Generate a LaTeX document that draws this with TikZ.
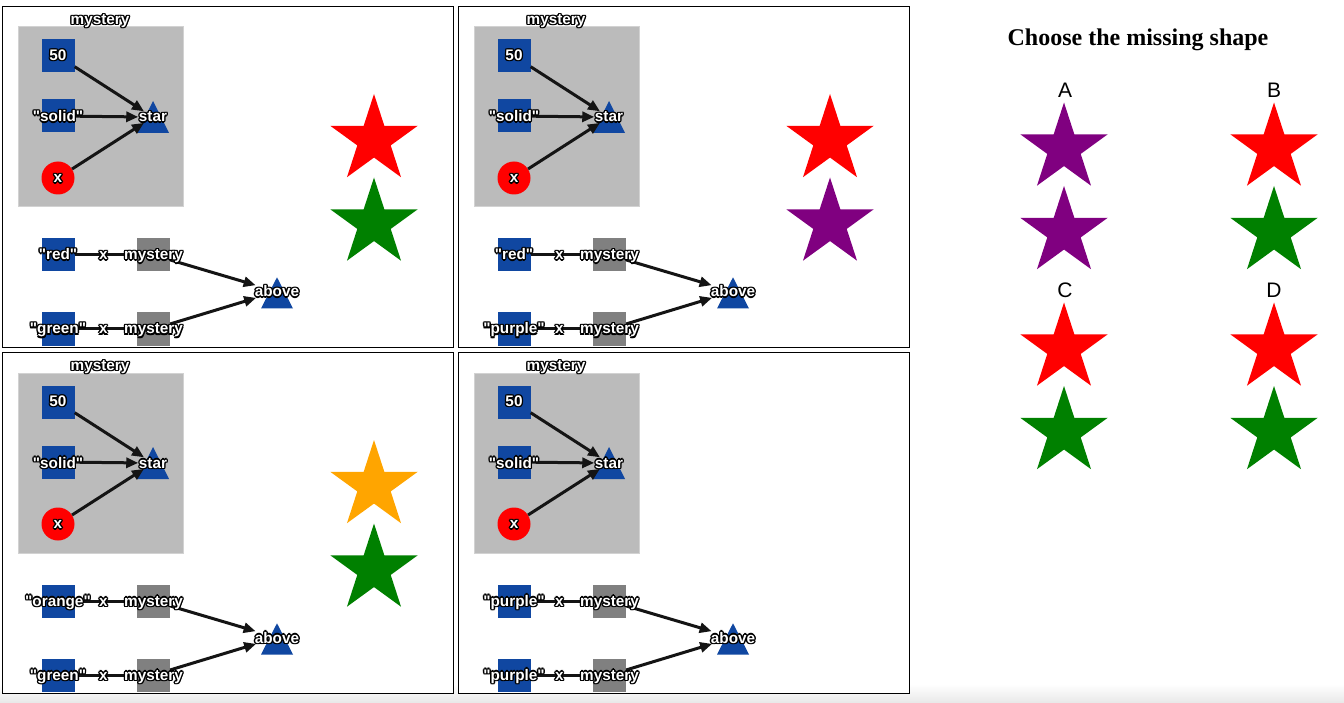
\documentclass[tikz,border=0pt]{standalone}
\usepackage{fontspec}
\setmainfont{Liberation Sans}
\newfontfamily\titlefont{Liberation Serif}
\usetikzlibrary{shapes.geometric,arrows.meta}
\pgfdeclarelayer{shapes}
\pgfdeclarelayer{lines}
\pgfsetlayers{shapes,lines,main}
\definecolor{nodeblue}{RGB}{16,71,161}
\definecolor{boxgray}{RGB}{187,187,187}
\definecolor{boxedge}{RGB}{210,210,210}
\definecolor{mgray}{RGB}{128,128,128}
\definecolor{linec}{RGB}{20,20,20}
\definecolor{sgreen}{RGB}{0,128,0}
\definecolor{spurple}{RGB}{128,0,128}
\definecolor{sorange}{RGB}{255,165,0}
\definecolor{halocol}{RGB}{0,0,0}
\newcommand\lblfont{\bfseries\fontsize{15.3pt}{15.3pt}\selectfont}
\newcommand\dq{\XeTeXglyph\XeTeXcharglyph"0022\relax}
\tikzset{
  lbl/.style={font=\lblfont, inner sep=0.5pt, anchor=base},
  sqnode/.style={fill=nodeblue, minimum size=33pt, inner sep=0pt, draw=none},
  msq/.style={fill=mgray, minimum size=33pt, inner sep=0pt, draw=none},
  redcirc/.style={circle, fill=red, minimum size=33pt, inner sep=0pt, draw=none},
  arr/.style={draw=linec, line width=3pt, -{Triangle[length=12pt,width=10pt]}},
  conn/.style={draw=linec, line width=3pt},
  pstar/.style={star, star points=5, star point ratio=2.618, minimum size=92pt, inner sep=0pt, draw=none},
  panelbox/.style={fill=white, draw=black, line width=1pt},
  ansl/.style={anchor=base, font=\fontsize{21pt}{21pt}\selectfont}
}
% haloed label: name, position, text
\newcommand\hl[3]{%
 \foreach \hx/\hy in {1.4/0,-1.4/0,0/1.4,0/-1.4,1/1,-1/1,1/-1,-1/-1}
   {\node[lbl, text=halocol, xshift=\hx pt, yshift=\hy pt] at (#2) {#3};}
 \node[lbl, text=white] (#1) at (#2) {#3};}
\newcommand\panel[5]{%
\begin{scope}[shift={(#1,#2)}]
 \begin{pgfonlayer}{shapes}
  \filldraw[fill=boxgray, draw=boxedge, line width=1pt] (18,27) rectangle (183,207);
  \node[sqnode] (#3a) at (58,56) {};
  \node[sqnode] (#3b) at (58,116) {};
  \node[redcirc] (#3c) at (58,178) {};
  \fill[nodeblue] (153,101) -- (169,133) -- (137,133) -- cycle;
  \node[sqnode] (#3r1) at (58,255) {};
  \node[sqnode] (#3r2) at (58,329) {};
  \node[msq] (#3m1) at (153.5,255) {};
  \node[msq] (#3m2) at (153.5,329) {};
  \fill[nodeblue] (277,277.3) -- (293,308.5) -- (261,308.5) -- cycle;
 \end{pgfonlayer}
 \coordinate (#3x1c) at (103.3,260);
 \coordinate (#3x2c) at (103.3,334);
 \hl{#3title}{100,24.5}{mystery}
 \hl{#3la}{58,60.5}{50}
 \hl{#3lb}{58,122}{\dq solid\dq}
 \hl{#3lc}{58,182.7}{x}
 \hl{#3star}{153,122}{star}
 \hl{#3lr1}{58,260}{\dq #4\dq}
 \hl{#3lm1}{153.5,260}{mystery}
 \hl{#3lr2}{58,334}{\dq #5\dq}
 \hl{#3lm2}{153.5,334}{mystery}
 \hl{#3above}{277,297}{above}
 \hl{#3x1}{#3x1c}{x}
 \hl{#3x2}{#3x2c}{x}
 \begin{pgfonlayer}{lines}
  \draw[arr] (#3a) -- (#3star);
  \draw[arr] (#3b) -- (#3star);
  \draw[arr] (#3c) -- (#3star);
  \draw[conn] (#3r1) -- (#3m1);
  \draw[conn] (#3r2) -- (#3m2);
  \draw[arr] (#3m1) -- (#3above);
  \draw[arr] (#3m2) -- (#3above);
 \end{pgfonlayer}
\end{scope}}
\begin{document}
\begin{tikzpicture}[x=1pt, y=-1pt]
\useasboundingbox (0,0) rectangle (1344,703);
\begin{pgfonlayer}{shapes}
 \shade[top color=white, bottom color=black!9] (0,684) rectangle (1344,703);
 \filldraw[panelbox] (2.5,6.5) rectangle (453,347);
 \filldraw[panelbox] (458,6.5) rectangle (909,347);
 \filldraw[panelbox] (2.5,352) rectangle (453,693);
 \filldraw[panelbox] (458,352) rectangle (909,693);
\end{pgfonlayer}
\panel{0}{0}{p1}{red}{green}
\panel{456}{0}{p2}{red}{purple}
\panel{0}{346}{p3}{orange}{green}
\panel{456}{346}{p4}{purple}{purple}
% panel result stars
\node[pstar, fill=red] (s1a) at (374,140) {};
\node[pstar, fill=sgreen] (s1b) at (374,223.5) {};
\node[pstar, fill=red] (s2a) at (830,140) {};
\node[pstar, fill=spurple] (s2b) at (830,223.5) {};
\node[pstar, fill=sorange] (s3a) at (374,486) {};
\node[pstar, fill=sgreen] (s3b) at (374,569.5) {};
% answers
\node[anchor=base, font=\titlefont\bfseries\fontsize{24pt}{24pt}\selectfont] (title) at (1138,46) {Choose the missing shape};
\node[ansl] (la) at (1065,98) {A};
\node[ansl] (lb) at (1274,98) {B};
\node[ansl] (lc) at (1065,298) {C};
\node[ansl] (ld) at (1274,298) {D};
\node[pstar, fill=spurple] (aa1) at (1064,148.5) {};
\node[pstar, fill=spurple] (aa2) at (1064,232) {};
\node[pstar, fill=red] (ab1) at (1274,148.5) {};
\node[pstar, fill=sgreen] (ab2) at (1274,232) {};
\node[pstar, fill=red] (ac1) at (1064,348.5) {};
\node[pstar, fill=sgreen] (ac2) at (1064,432) {};
\node[pstar, fill=red] (ad1) at (1274,348.5) {};
\node[pstar, fill=sgreen] (ad2) at (1274,432) {};
\end{tikzpicture}
\end{document}
